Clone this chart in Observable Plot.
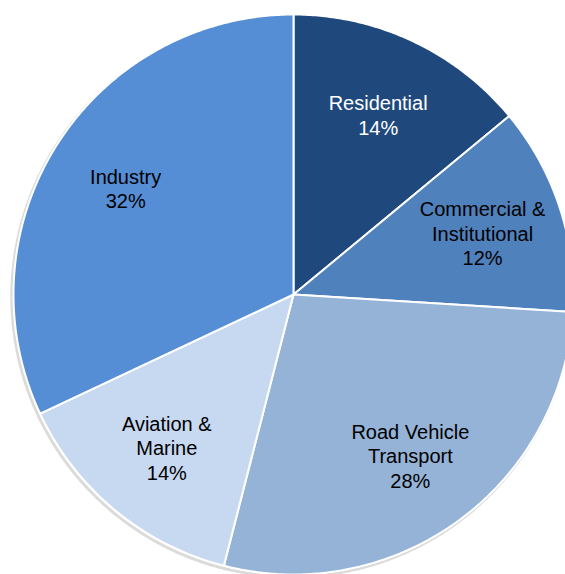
<!DOCTYPE html>
<html>
<head>
<meta charset="utf-8">
<script src="https://cdn.jsdelivr.net/npm/d3@7"></script>
<script src="https://cdn.jsdelivr.net/npm/@observablehq/plot@0.6"></script>
<style>
  html, body { margin: 0; padding: 0; background: #fff; }
  #chart { width: 565px; height: 574px; overflow: hidden; }
</style>
</head>
<body>
<div id="chart"></div>
<script>
const categories = ["Residential", "Commercial & Institutional", "Road Vehicle Transport", "Aviation & Marine", "Industry"];
const shares = [14, 12, 28, 14, 32];
const labelLines = ["Residential\n14%", "Commercial &\nInstitutional\n12%", "Road Vehicle\nTransport\n28%", "Aviation &\nMarine\n14%", "Industry\n32%"];
const colors = ["#1F497D", "#4F81BD", "#95B3D7", "#C6D9F1", "#558ED5"];
const labelColors = ["white", "black", "black", "black", "black"];

const arcs = d3.pie().sort(null).value(d => d)(shares);

const rows = [];
arcs.forEach((a, i) => {
  const cat = categories[i];
  rows.push({cat, x: 0, y: 0});
  const n = Math.max(2, Math.ceil((a.endAngle - a.startAngle) / (Math.PI / 360)));
  for (let k = 0; k <= n; k++) {
    const t = a.startAngle + (a.endAngle - a.startAngle) * k / n;
    rows.push({cat, x: Math.sin(t), y: Math.cos(t)});
  }
  rows.push({cat, x: 0, y: 0});
});

const labels = arcs.map((a, i) => {
  const m = (a.startAngle + a.endAngle) / 2;
  const r = 0.71;
  return {text: labelLines[i], x: r * Math.sin(m), y: r * Math.cos(m), c: labelColors[i]};
});

const circle = d3.range(0, 721).map(k => ({x: Math.sin(k * Math.PI / 360), y: Math.cos(k * Math.PI / 360)}));

const chart = Plot.plot({
  width: 565,
  height: 574,
  margin: 0,
  x: {domain: [-293 / 280, 272 / 280], axis: null},
  y: {domain: [-280 / 280, 294 / 280], axis: null},
  color: {domain: categories, range: colors},
  style: {fontFamily: "'Liberation Sans', Arial, sans-serif", background: "white"},
  marks: [
    Plot.line(circle, {x: d => d.x - 0.006, y: d => d.y - 0.008, stroke: "#999", strokeWidth: 3, strokeOpacity: 0.35}),
    Plot.line(rows, {x: "x", y: "y", z: "cat", fill: "cat", stroke: "white", strokeWidth: 2, strokeLinejoin: "round", curve: "linear"}),
    Plot.text(labels, {x: "x", y: "y", text: "text", fill: "c", fontSize: 20, lineHeight: 1.22, textAnchor: "middle"})
  ]
});
document.getElementById("chart").appendChild(chart);
</script>
</body>
</html>
